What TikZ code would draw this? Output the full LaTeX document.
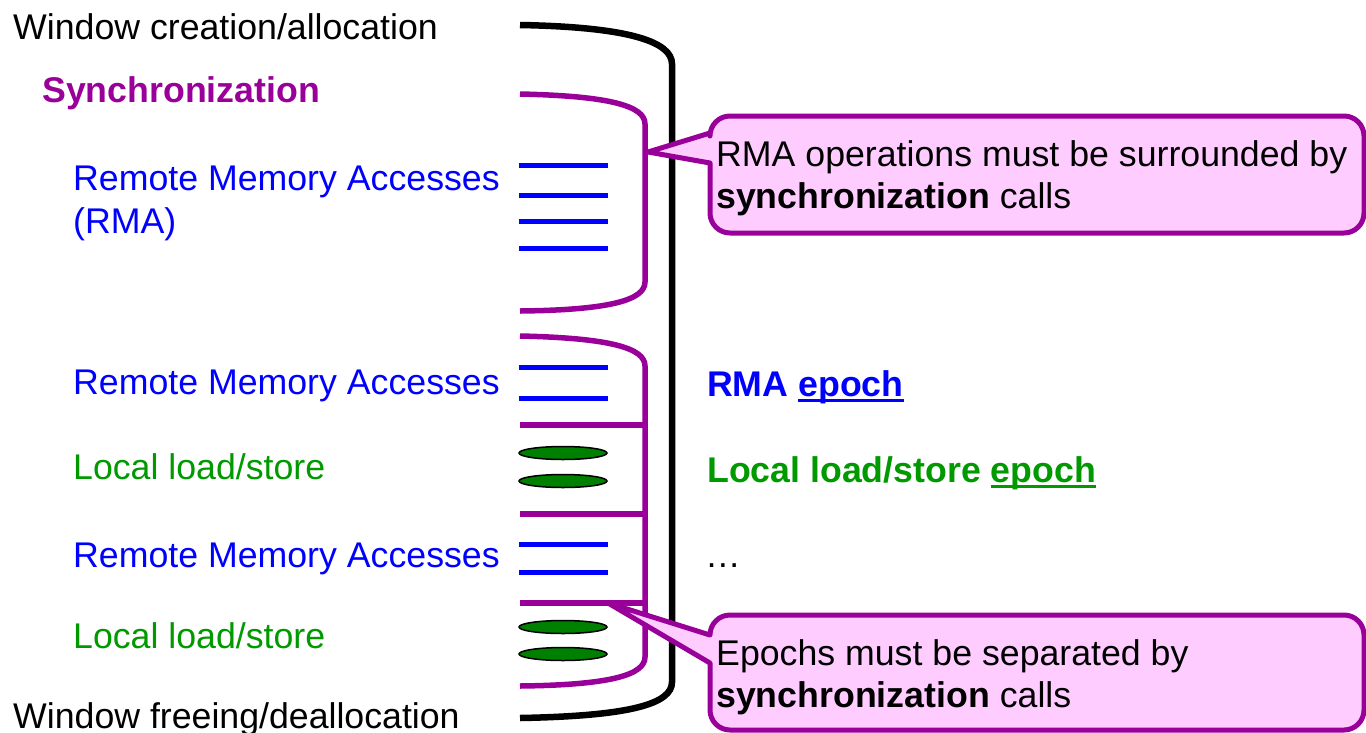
\documentclass[tikz,border=0pt]{standalone}
\usepackage{fontspec}
\setmainfont{Liberation Sans}
\definecolor{pur}{RGB}{153,0,153}
\definecolor{grn}{RGB}{0,153,0}
\definecolor{ellg}{RGB}{0,128,0}
\definecolor{pinkfill}{RGB}{255,204,255}
\newcommand\fs{\fontsize{35.7}{42}\selectfont}
\newcommand\ulword[1]{\setbox0\hbox{#1}\rlap{\rule[-6pt]{\wd0}{2.6pt}}\box0}
\begin{document}
\begin{tikzpicture}[x=1pt,y=-1pt,
  txt/.style={anchor=base west,inner sep=0pt,font=\fs},
  blk/.style={line width=6.5pt,black},
  purl/.style={line width=5.5pt,pur},
  bluel/.style={line width=5pt,blue},
  lls/.style={draw=black,line width=1.5pt,fill=ellg},
  callout/.style={draw=pur,line width=5pt,fill=pinkfill,line join=round}]
\useasboundingbox (0,0) rectangle (1366,732);
% left labels
\node[txt] (wc) at (13,39) {Window creation/allocation};
\node[txt,text=pur,font=\fs\bfseries] (sy) at (42,102) {Synchronization};
\node[txt,text=blue] (rma1) at (73,190) {Remote Memory Accesses};
\node[txt,text=blue] (rma1b) at (73,233) {(RMA)};
\node[txt,text=blue] (rma2) at (73,394) {Remote Memory Accesses};
\node[txt,text=grn] (ls1) at (73,479) {Local load/store};
\node[txt,text=blue] (rma3) at (73,567) {Remote Memory Accesses};
\node[txt,text=grn] (ls2) at (73,648) {Local load/store};
\node[txt] (wf) at (13,728) {Window freeing/deallocation};
% right labels
\node[txt,text=blue,font=\fs\bfseries] (ep1) at (707,396) {RMA \ulword{epoch}};
\node[txt,text=grn,font=\fs\bfseries] (ep2) at (707,482) {Local load/store \ulword{epoch}};
\node[txt] (dots) at (705,567) {\symbol{"2026}};
% black window bracket
\draw[blk] (520,25) .. controls (630,27) and (672,42) .. (672,64) -- (672,682)
  .. controls (672,704) and (630,716) .. (520,718);
% first synchronization bracket
\draw[purl] (520,94) .. controls (610,96) and (645,106) .. (645,124) -- (645,282)
  .. controls (645,300) and (610,310) .. (520,311);
\foreach \y in {165,195,221,248} \draw[bluel] (519,\y) -- (608,\y);
% second synchronization bracket
\draw[purl] (520,336) .. controls (610,338) and (645,348) .. (645,366) -- (645,657)
  .. controls (645,675) and (610,685) .. (520,686);
\foreach \y in {425,514,603} \draw[purl] (520,\y) -- (645,\y);
\foreach \y in {367,398,544,572} \draw[bluel] (519,\y) -- (608,\y);
\foreach \y in {453,481,627,654} \draw[lls] (563,\y) ellipse [x radius=44, y radius=6.5];
% callouts
\draw[callout] (710,163) -- (648,152) -- (710,133) [rounded corners=20] -- (710,116)
  -- (1364,116) -- (1364,233) -- (710,233) [sharp corners] -- cycle;
\node[txt] (c1a) at (716,166) {RMA operations must be surrounded by};
\node[txt] (c1b) at (716,208) {\textbf{synchronization} calls};
\draw[callout] (710,663) -- (608,603) -- (710,635) [rounded corners=20] -- (710,615)
  -- (1364,615) -- (1364,730) -- (710,730) [sharp corners] -- cycle;
\node[txt] (c2a) at (716,665) {Epochs must be separated by};
\node[txt] (c2b) at (716,707) {\textbf{synchronization} calls};
\end{tikzpicture}
\end{document}
